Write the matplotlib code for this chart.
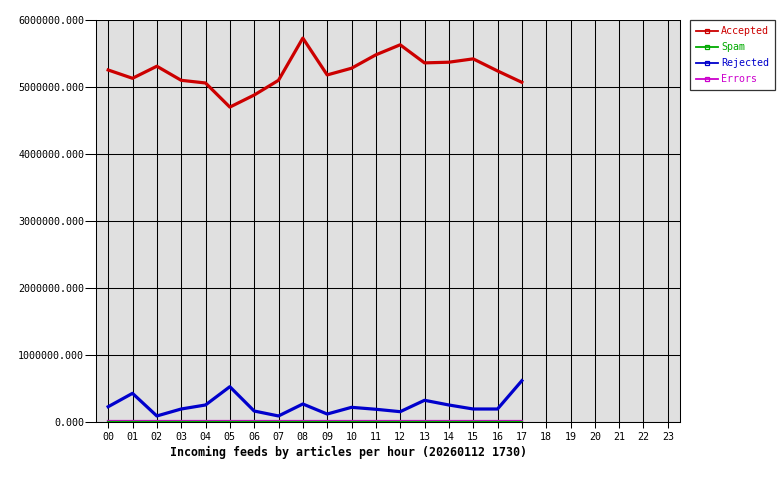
import matplotlib
matplotlib.use('Agg')
import matplotlib.pyplot as plt
from matplotlib.lines import Line2D
import numpy as np

# hourly data (articles per hour)
hours = ['00', '01', '02', '03', '04', '05', '06', '07', '08', '09', '10', '11',
         '12', '13', '14', '15', '16', '17', '18', '19', '20', '21', '22', '23']
accepted = [5254000, 5130000, 5310000, 5100000, 5060000, 4700000, 4880000, 5100000,
            5730000, 5180000, 5280000, 5480000, 5630000, 5360000, 5370000, 5420000,
            5240000, 5070000]
spam = [0] * 18
rejected = [228000, 428000, 90000, 194000, 254000, 527000, 164000, 90000,
            269000, 119000, 219000, 190000, 154000, 324000, 254000, 194000,
            194000, 616000]
errors = [12000] * 18

title = 'Incoming feeds by articles per hour (20260112 1730)'
font = 'DejaVu Sans Mono'
order = ['Accepted', 'Spam', 'Rejected', 'Errors']
cols = {'Accepted': '#cc0000', 'Spam': '#00aa00', 'Rejected': '#0000cc', 'Errors': '#cc00cc'}

fig = plt.figure(figsize=(7.8, 4.8), dpi=100)
ax = fig.add_axes([96 / 780, 1 - 422 / 480, 584 / 780, 402 / 480])
ax.set_facecolor('#e0e0e0')

x = np.arange(len(accepted))
ax.plot(x, errors, color=cols['Errors'], lw=1.6, zorder=3)
ax.plot(x, spam, color=cols['Spam'], lw=1.6, zorder=3)
ax.plot(x, rejected, color=cols['Rejected'], lw=2.3, zorder=4)
ax.plot(x, accepted, color=cols['Accepted'], lw=2.3, zorder=4)

ax.set_xlim(-0.5, 23.5)
ax.set_ylim(0, 6000000)
ax.set_xticks(np.arange(24))
ax.set_xticklabels(hours, fontfamily=font, fontsize=7.2)
yt = np.arange(0, 6000001, 1000000)
ax.set_yticks(yt)
ax.set_yticklabels(['%.3f' % v for v in yt], fontfamily=font, fontsize=7.2)
ax.tick_params(axis='x', length=4, width=0.75, color='black', pad=3)
ax.tick_params(axis='y', length=8, width=0.75, color='black', pad=0.5)
ax.grid(True, color='black', lw=0.75)
ax.set_axisbelow(True)
for s in ax.spines.values():
    s.set_linewidth(0.75)
ax.spines['top'].set_visible(False)

ax.set_xlabel(title, fontfamily=font, fontsize=8.4, fontweight='bold')
ax.xaxis.set_label_coords((348.5 - 96) / 584, -24 / 402)

# legend box at right
lh = [Line2D([0], [0], color=cols[k], lw=1.3, marker='s', markersize=3.2,
             markerfacecolor='none', markeredgecolor=cols[k], markeredgewidth=0.9)
      for k in order]
leg = fig.legend(lh, order, loc='upper left', bbox_to_anchor=(690 / 780, 1 - 20 / 480),
                 prop={'family': font, 'size': 7.2}, frameon=True, fancybox=False,
                 handlelength=2.2, handletextpad=0.3, borderpad=0.6, labelspacing=0.6,
                 borderaxespad=0)
leg.get_frame().set_edgecolor('black')
leg.get_frame().set_linewidth(0.9)
for t, k in zip(leg.get_texts(), order):
    t.set_color(cols[k])

fig.savefig('out.png', dpi=100)
